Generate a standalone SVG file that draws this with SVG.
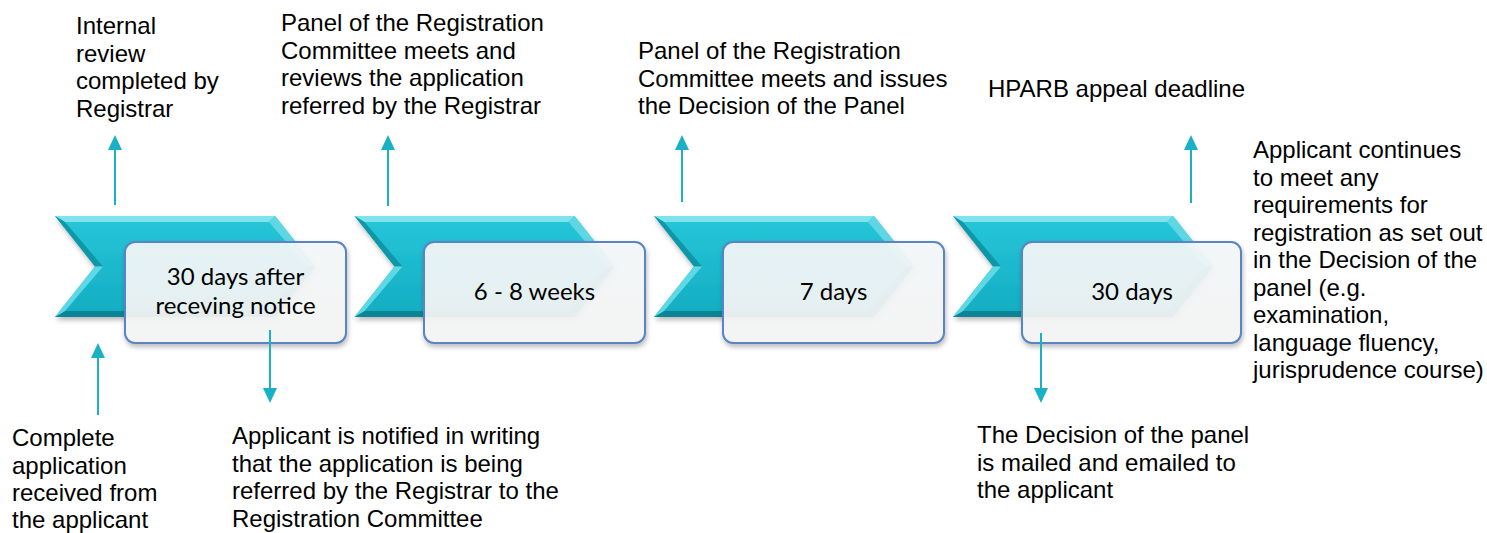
<svg xmlns="http://www.w3.org/2000/svg" width="1487" height="533" viewBox="0 0 1487 533">
<defs>
<linearGradient id="chevFill" x1="0" y1="0" x2="0" y2="1">
<stop offset="0" stop-color="#27c6d9"/>
<stop offset="1" stop-color="#13acc1"/>
</linearGradient>
<linearGradient id="boxFill" x1="0" y1="0" x2="0" y2="1">
<stop offset="0" stop-color="#f4f8f9"/>
<stop offset="1" stop-color="#f5f5f5"/>
</linearGradient>
<filter id="shadow" x="-10%" y="-10%" width="120%" height="130%">
<feDropShadow dx="1" dy="3" stdDeviation="2.5" flood-color="#000" flood-opacity="0.28"/>
</filter>
<g id="chevron">
<polygon points="0,0 220,0 260,50.5 220,101 0,101 40,50.5" fill="url(#chevFill)" filter="url(#shadow)"/>
<polygon points="0,0 220,0 214,6 10,6" fill="#7fe3ee"/>
<polygon points="220,0 260,50.5 252,50.5 214,6" fill="#5fd6e4"/>
<polygon points="260,50.5 220,101 214,95 252,50.5" fill="#0e93a6"/>
<polygon points="220,101 0,101 10,95 214,95" fill="#0b8596"/>
<polygon points="0,0 40,50.5 48,50.5 10,6" fill="#0f97a8"/>
<polygon points="40,50.5 0,101 10,95 48,50.5" fill="#5fd8e6"/>
</g>
</defs>
<style>
.lbl{font-family:"Liberation Sans",Arial,sans-serif;font-size:24px;fill:#000}
.box{fill:url(#boxFill);fill-opacity:0.92;stroke:#5a84c4;stroke-width:2}
.btxt{font-family:Lato,"Noto Sans",sans-serif;font-size:24px;fill:#000;text-anchor:middle}
.conn{stroke:#1ab0c6;stroke-width:2;fill:none}
.head{fill:#1ab0c6}
</style>

<g id="step1">
<use href="#chevron" x="55" y="216"/>
<rect class="box" x="125" y="242" width="221" height="101" rx="10" filter="url(#shadow)"/>
<text class="btxt" x="235.5" y="285">30 days after</text>
<text class="btxt" x="235.5" y="314">receving notice</text>
</g>
<g id="step2">
<use href="#chevron" x="354.5" y="216"/>
<rect class="box" x="424" y="242" width="221" height="101" rx="10" filter="url(#shadow)"/>
<text class="btxt" x="534.5" y="300">6 - 8 weeks</text>
</g>
<g id="step3">
<use href="#chevron" x="654" y="216"/>
<rect class="box" x="723" y="242" width="221" height="101" rx="10" filter="url(#shadow)"/>
<text class="btxt" x="833.5" y="300">7 days</text>
</g>
<g id="step4">
<use href="#chevron" x="953" y="216"/>
<rect class="box" x="1022" y="242" width="219" height="101" rx="10" filter="url(#shadow)"/>
<text class="btxt" x="1132" y="300">30 days</text>
</g>

<g id="connectors">
<line class="conn" x1="115" y1="205" x2="115" y2="148"/>
<polygon class="head" points="115,135 108,150 122,150"/>
<line class="conn" x1="98" y1="415" x2="98" y2="356"/>
<polygon class="head" points="98,343 91,358 105,358"/>
<line class="conn" x1="270" y1="330" x2="270" y2="390"/>
<polygon class="head" points="270,403 263,388 277,388"/>
<line class="conn" x1="388" y1="206" x2="388" y2="148"/>
<polygon class="head" points="388,135 381,150 395,150"/>
<line class="conn" x1="682" y1="202" x2="682" y2="148"/>
<polygon class="head" points="682,135 675,150 689,150"/>
<line class="conn" x1="1041" y1="333" x2="1041" y2="390"/>
<polygon class="head" points="1041,403 1034,388 1048,388"/>
<line class="conn" x1="1191" y1="203" x2="1191" y2="148"/>
<polygon class="head" points="1191,135 1184,150 1198,150"/>
</g>

<g id="label-internal-review">
<text class="lbl" x="76" y="34">Internal</text>
<text class="lbl" x="76" y="62">review</text>
<text class="lbl" x="76" y="89">completed by</text>
<text class="lbl" x="76" y="117">Registrar</text>
</g>
<g id="label-panel-reviews">
<text class="lbl" x="281" y="31">Panel of the Registration</text>
<text class="lbl" x="281" y="59">Committee meets and</text>
<text class="lbl" x="281" y="86">reviews the application</text>
<text class="lbl" x="281" y="114">referred by the Registrar</text>
</g>
<g id="label-panel-decision">
<text class="lbl" x="638" y="59">Panel of the Registration</text>
<text class="lbl" x="638" y="87">Committee meets and issues</text>
<text class="lbl" x="638" y="114">the Decision of the Panel</text>
</g>
<g id="label-hparb">
<text class="lbl" x="988" y="97">HPARB appeal deadline</text>
</g>
<g id="label-continues">
<text class="lbl" x="1253" y="158">Applicant continues</text>
<text class="lbl" x="1253" y="186">to meet any</text>
<text class="lbl" x="1253" y="213">requirements for</text>
<text class="lbl" x="1253" y="241">registration as set out</text>
<text class="lbl" x="1253" y="268">in the Decision of the</text>
<text class="lbl" x="1253" y="296">panel (e.g.</text>
<text class="lbl" x="1253" y="323">examination,</text>
<text class="lbl" x="1253" y="351">language fluency,</text>
<text class="lbl" x="1253" y="378">jurisprudence course)</text>
</g>
<g id="label-complete">
<text class="lbl" x="12" y="446">Complete</text>
<text class="lbl" x="12" y="473.5">application</text>
<text class="lbl" x="12" y="501">received from</text>
<text class="lbl" x="12" y="528">the applicant</text>
</g>
<g id="label-notified">
<text class="lbl" x="232" y="444">Applicant is notified in writing</text>
<text class="lbl" x="232" y="472">that the application is being</text>
<text class="lbl" x="232" y="499">referred by the Registrar to the</text>
<text class="lbl" x="232" y="527">Registration Committee</text>
</g>
<g id="label-mailed">
<text class="lbl" x="977" y="443">The Decision of the panel</text>
<text class="lbl" x="977" y="471">is mailed and emailed to</text>
<text class="lbl" x="977" y="498">the applicant</text>
</g>
</svg>
